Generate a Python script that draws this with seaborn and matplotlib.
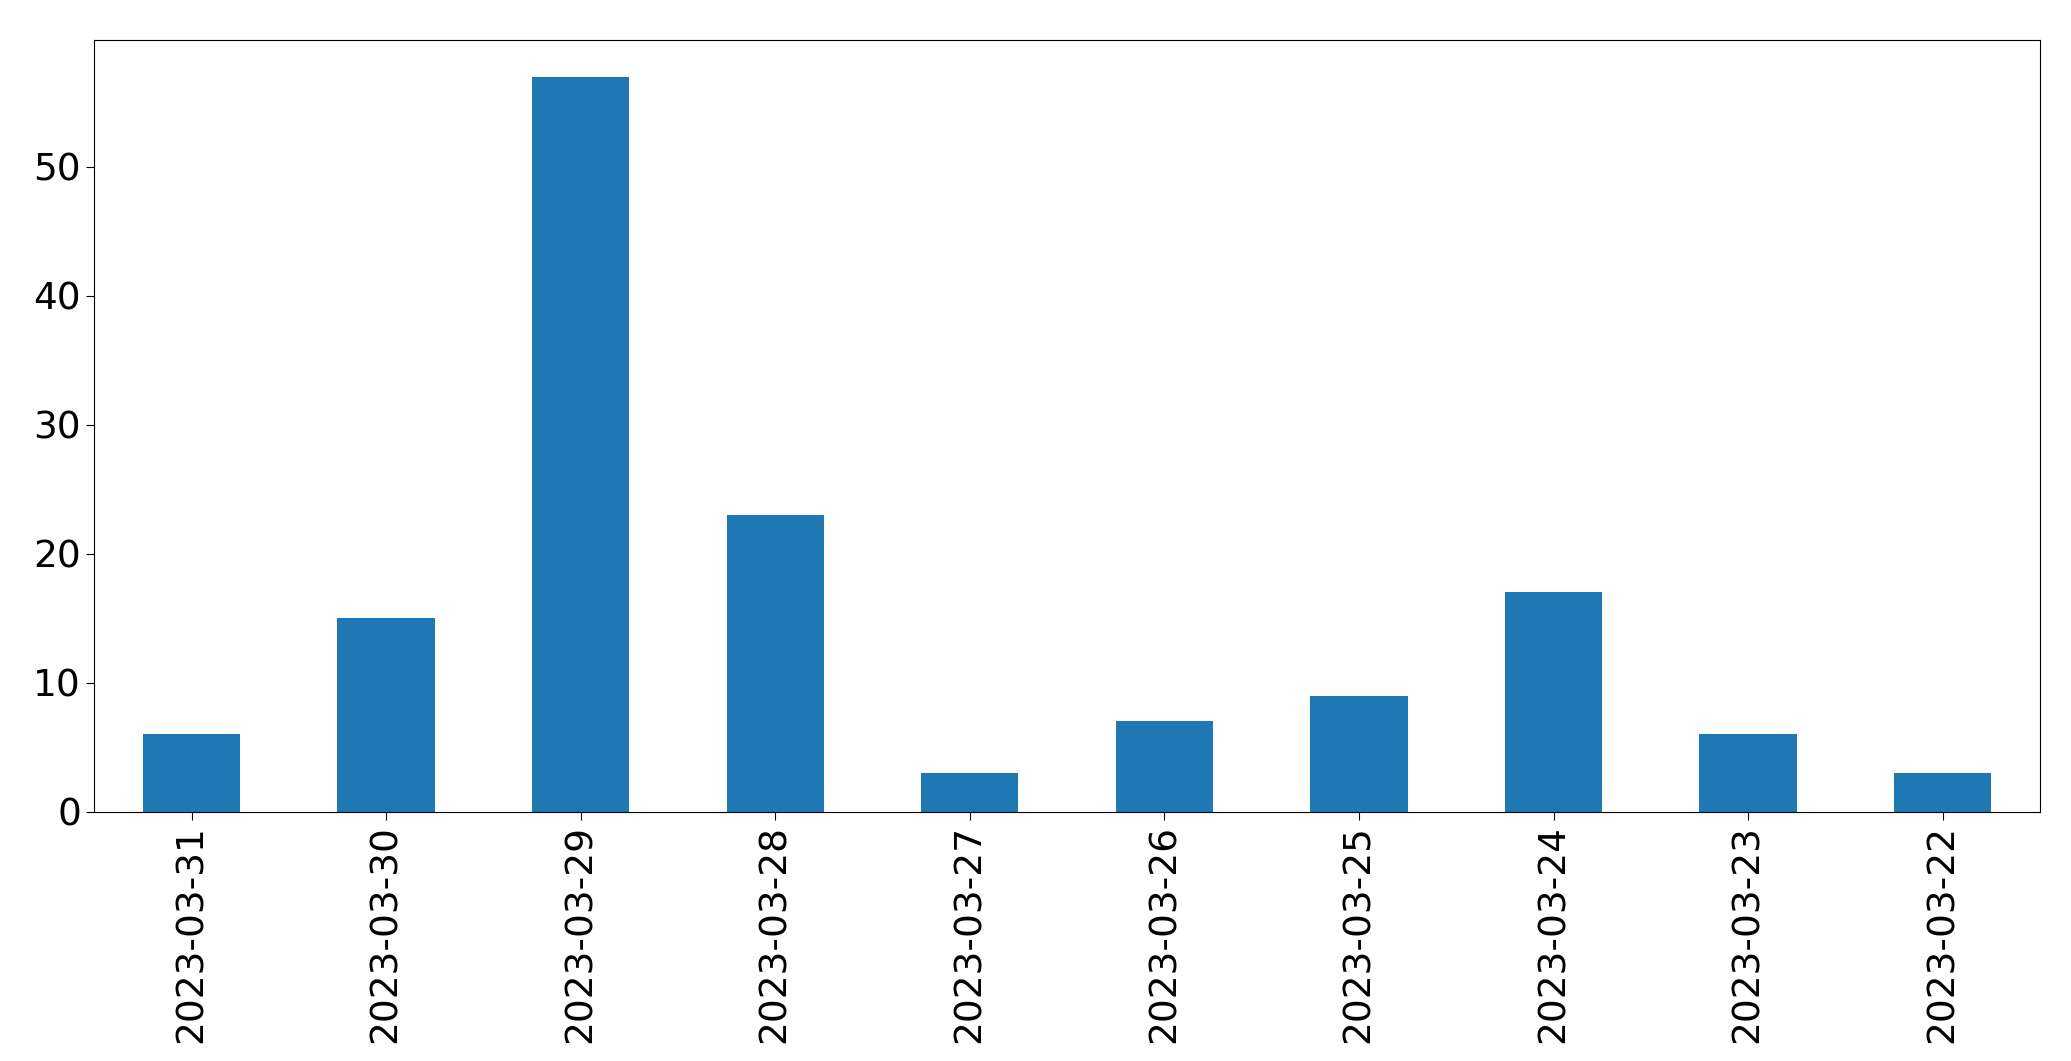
import matplotlib
matplotlib.use("Agg")
import matplotlib.pyplot as plt
import seaborn as sns
import pandas as pd

dates = ["2023-03-31", "2023-03-30", "2023-03-29", "2023-03-28", "2023-03-27",
         "2023-03-26", "2023-03-25", "2023-03-24", "2023-03-23", "2023-03-22"]
counts = [6, 15, 57, 23, 3, 7, 9, 17, 6, 3]

df = pd.DataFrame({"date": dates, "count": counts})

fig = plt.figure(figsize=(20.71, 10.61), dpi=100)
ax = fig.add_axes([0.0455, 0.235, 0.9395, 0.7275])
sns.barplot(data=df, x="date", y="count", order=dates, color="#1f77b4",
            saturation=1, width=0.5, ax=ax)

ax.set_xlim(-0.5, len(dates) - 0.5)
ax.set_ylim(0, max(counts) * 1.05)
ax.set_xlabel("")
ax.set_ylabel("")
ax.tick_params(axis="both", labelsize=27, length=6)
ax.tick_params(axis="x", labelrotation=90)

fig.savefig("out.png", dpi=100)
